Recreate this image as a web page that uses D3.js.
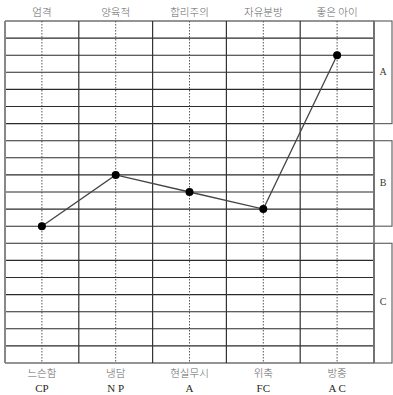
<!DOCTYPE html>
<html>
<head>
<meta charset="utf-8">
<script src="https://cdn.jsdelivr.net/npm/d3@7"></script>
<style>
  html, body { margin: 0; padding: 0; background: #fff; }
  svg { display: block; }
</style>
</head>
<body>
<div id="chart"></div>
<script>
// Egogram values (0 - 20 scale)
const categories = ["CP", "NP", "A", "FC", "AC"];
const categoryLabels = ["CP", "N P", "A", "FC", "A C"];
const topLabels = ["엄격", "양육적", "합리주의", "자유분방", "좋은 아이"];
const bottomLabels = ["느슨함", "냉담", "현실무시", "위축", "방종"];
const values = [8, 11, 10, 9, 18];

// Right-side bands
const bandNames = ["A", "B", "C"];
const bandTop = [20, 13, 7];
const bandBottom = [14, 8, 0];

const width = 393;
const height = 395;
const gridLeft = 5, gridRight = 374, gridTop = 21, gridBottom = 363;

const svg = d3.select("#chart")
    .append("svg")
    .attr("width", width)
    .attr("height", height);

const x = d3.scaleBand()
    .domain(categories)
    .range([gridLeft, gridRight]);

const y = d3.scaleLinear()
    .domain([0, 20])
    .range([gridBottom, gridTop]);

let grid = svg.append("g");

// Horizontal lines
grid.selectAll("line.h")
    .data(d3.range(0, 21))
    .join("line")
    .attr("class", "h")
    .attr("x1", gridLeft)
    .attr("x2", gridRight)
    .attr("y1", d => y(d))
    .attr("y2", d => y(d))
    .attr("stroke", "#2a2a2a")
    .attr("stroke-width", 1.1);

// Column separators
grid.selectAll("line.v")
    .data(categories.slice(1))
    .join("line")
    .attr("class", "v")
    .attr("x1", d => x(d))
    .attr("x2", d => x(d))
    .attr("y1", gridTop)
    .attr("y2", gridBottom)
    .attr("stroke", "#333")
    .attr("stroke-width", 1.2);

// Outer left/right edges
grid.append("line")
    .attr("x1", gridLeft).attr("x2", gridLeft)
    .attr("y1", gridTop).attr("y2", gridBottom)
    .attr("stroke", "#888")
    .attr("stroke-width", 2);

grid.append("line")
    .attr("x1", gridRight).attr("x2", gridRight)
    .attr("y1", gridTop).attr("y2", gridBottom)
    .attr("stroke", "#888")
    .attr("stroke-width", 2);

// Dotted centre lines
grid.selectAll("line.c")
    .data(categories)
    .join("line")
    .attr("class", "c")
    .attr("x1", d => x(d) + x.bandwidth() / 2)
    .attr("x2", d => x(d) + x.bandwidth() / 2)
    .attr("y1", gridTop)
    .attr("y2", gridBottom)
    .attr("stroke", "#555")
    .attr("stroke-width", 1)
    .attr("stroke-dasharray", "1.5,1.5");

// Bracket boxes on the right
const bands = bandNames.map((name, i) => ({ name: name, hi: bandTop[i], lo: bandBottom[i] }));

grid.selectAll("rect.band")
    .data(bands)
    .join("rect")
    .attr("class", "band")
    .attr("x", gridRight)
    .attr("y", d => y(d.hi))
    .attr("width", 18)
    .attr("height", d => y(d.lo) - y(d.hi))
    .attr("fill", "none")
    .attr("stroke", "#666")
    .attr("stroke-width", 1.2);

grid.selectAll("text.band")
    .data(bands)
    .join("text")
    .attr("class", "band")
    .attr("x", gridRight + 9)
    .attr("y", d => (y(d.lo) + y(d.hi)) / 2)
    .attr("text-anchor", "middle")
    .attr("dominant-baseline", "middle")
    .attr("font-family", "'Liberation Serif', 'DejaVu Serif', serif")
    .attr("font-size", 10)
    .attr("fill", "#3a3a2a")
    .text(d => d.name);

// Labels
const labels = svg.append("g")
    .attr("font-family", "'Noto Sans CJK KR', sans-serif")
    .attr("text-anchor", "middle");

labels.selectAll("text.top")
    .data(categories)
    .join("text")
    .attr("class", "top")
    .attr("x", d => x(d) + x.bandwidth() / 2)
    .attr("y", 16)
    .attr("font-size", 10.5)
    .attr("font-weight", 300)
    .attr("fill", "#666")
    .text((d, i) => topLabels[i]);

labels.selectAll("text.bottom")
    .data(categories)
    .join("text")
    .attr("class", "bottom")
    .attr("x", d => x(d) + x.bandwidth() / 2)
    .attr("y", 377)
    .attr("font-size", 10.5)
    .attr("font-weight", 300)
    .attr("fill", "#666")
    .text((d, i) => bottomLabels[i]);

labels.selectAll("text.abbr")
    .data(categories)
    .join("text")
    .attr("class", "abbr")
    .attr("x", d => x(d) + x.bandwidth() / 2)
    .attr("y", 392)
    .attr("font-family", "'Liberation Serif', 'DejaVu Serif', serif")
    .attr("font-size", 11)
    .attr("fill", "#2a2a1a")
    .text((d, i) => categoryLabels[i]);

// Data line and points
const line = d3.line()
    .x(d => x(d.cat) + x.bandwidth() / 2)
    .y(d => y(d.value));

const points = categories.map((c, i) => ({ cat: c, value: values[i] }));

svg.append("path")
    .datum(points)
    .attr("d", line)
    .attr("fill", "none")
    .attr("stroke", "#444")
    .attr("stroke-width", 1.3);

svg.selectAll("circle.pt")
    .data(points)
    .join("circle")
    .attr("class", "pt")
    .attr("cx", d => x(d.cat) + x.bandwidth() / 2)
    .attr("cy", d => y(d.value))
    .attr("r", 4)
    .attr("fill", "#000");
</script>
</body>
</html>
